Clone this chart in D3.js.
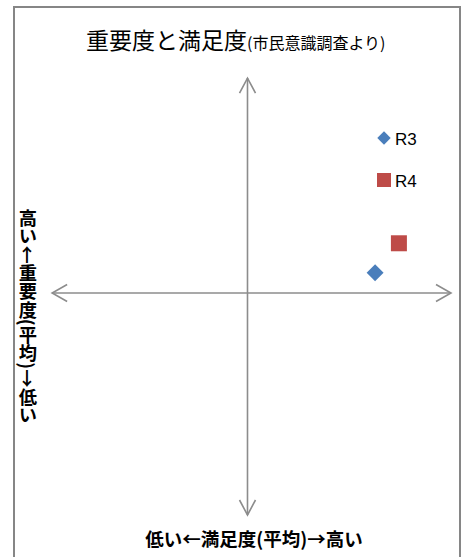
<!DOCTYPE html>
<html>
<head>
<meta charset="utf-8">
<script src="https://cdn.jsdelivr.net/npm/d3@7"></script>
<style>
  body { margin: 0; background: #fff; }
  svg { display: block; }
</style>
</head>
<body>
<svg id="chart"></svg>
<script>
// scatter of importance (y) vs satisfaction (x), as deviations from the average
const seriesNames = ['R3', 'R4'];
const satisfaction = [0.627, 0.744];
const importance = [0.091, 0.224];
const seriesColors = ['#4a7ebb', '#be4b48'];

const titleMain = '重要度と満足度';
const titleSub = '(市民意識調査より)';
const xLabel = '低い←満足度(平均)→高い';
const yLabel = '高い←重要度(平均)→低い';

const W = 466, H = 557;
const svg = d3.select('#chart').attr('width', W).attr('height', H);

// outer chart frame
svg.append('rect')
  .attr('x', 14).attr('y', 7)
  .attr('width', 446).attr('height', H)
  .attr('fill', '#fff')
  .attr('stroke', '#868686')
  .attr('stroke-width', 2);

// scales centred on the average
const xScale = d3.scaleLinear().domain([-1, 1]).range([44, 451]);
const yScale = d3.scaleLinear().domain([-1, 1]).range([515, 71]);

// axis arrows (double headed)
const axisColor = '#8c8c8c';
const axes = svg.append('g')
  .attr('stroke', axisColor)
  .attr('stroke-width', 1.6)
  .attr('fill', 'none');

const hx0 = xScale(-0.96), hx1 = xScale(1), hy = yScale(0);
axes.append('line').attr('x1', hx0).attr('x2', hx1).attr('y1', hy).attr('y2', hy);
axes.append('path').attr('d', `M${hx0 + 15},${hy - 8.5}L${hx0},${hy}L${hx0 + 15},${hy + 8.5}`);
axes.append('path').attr('d', `M${hx1 - 15},${hy - 8.5}L${hx1},${hy}L${hx1 - 15},${hy + 8.5}`);

const vx = xScale(0), vy0 = yScale(0.968), vy1 = yScale(-1);
axes.append('line').attr('x1', vx).attr('x2', vx).attr('y1', vy0).attr('y2', vy1);
axes.append('path').attr('d', `M${vx - 8},${vy0 + 15}L${vx},${vy0}L${vx + 8},${vy0 + 15}`);
axes.append('path').attr('d', `M${vx - 8},${vy1 - 15}L${vx},${vy1}L${vx + 8},${vy1 - 15}`);

// markers: diamond for R3, square for R4
const markerPath = size => d3.symbol().type(d3.symbolSquare).size(size)();
const points = seriesNames.map((name, i) => ({
  name, x: satisfaction[i], y: importance[i], color: seriesColors[i], i
}));

svg.append('g').selectAll('path')
  .data(points)
  .enter()
  .append('path')
  .attr('d', d => markerPath(d.i === 0 ? 144 : 256))
  .attr('transform', d => `translate(${xScale(d.x)},${yScale(d.y)})` + (d.i === 0 ? ' rotate(45)' : ''))
  .attr('fill', d => d.color);

// legend
const legend = svg.append('g').attr('transform', 'translate(384, 138)');
const items = legend.selectAll('g')
  .data(points)
  .enter()
  .append('g')
  .attr('transform', (d, i) => `translate(0, ${i * 42})`);
items.append('path')
  .attr('d', d => markerPath(d.i === 0 ? 90 : 196))
  .attr('transform', d => d.i === 0 ? 'rotate(45)' : '')
  .attr('fill', d => d.color);
items.append('text')
  .attr('x', 11)
  .attr('y', 6.5)
  .attr('font-family', '"Liberation Sans", Arial, sans-serif')
  .attr('font-size', '17px')
  .attr('fill', '#000')
  .text(d => d.name);

// title
const title = svg.append('text')
  .attr('x', 86)
  .attr('y', 49)
  .attr('font-family', '"Noto Sans CJK JP", sans-serif')
  .attr('fill', '#000');
title.append('tspan').attr('font-size', '23px').text(titleMain);
title.append('tspan').attr('font-size', '16px').text(titleSub);

// axis titles
svg.append('text')
  .attr('x', 254)
  .attr('y', 546)
  .attr('text-anchor', 'middle')
  .attr('font-family', '"Noto Sans CJK JP", sans-serif')
  .attr('font-weight', 'bold')
  .attr('font-size', '18.5px')
  .attr('fill', '#000')
  .text(xLabel);

svg.append('text')
  .attr('x', 28)
  .attr('y', 209)
  .style('writing-mode', 'vertical-rl')
  .style('text-orientation', 'mixed')
  .attr('font-family', '"Noto Sans CJK JP", sans-serif')
  .attr('font-weight', 'bold')
  .attr('font-size', '18.3px')
  .attr('fill', '#000')
  .text(yLabel);
</script>
</body>
</html>
